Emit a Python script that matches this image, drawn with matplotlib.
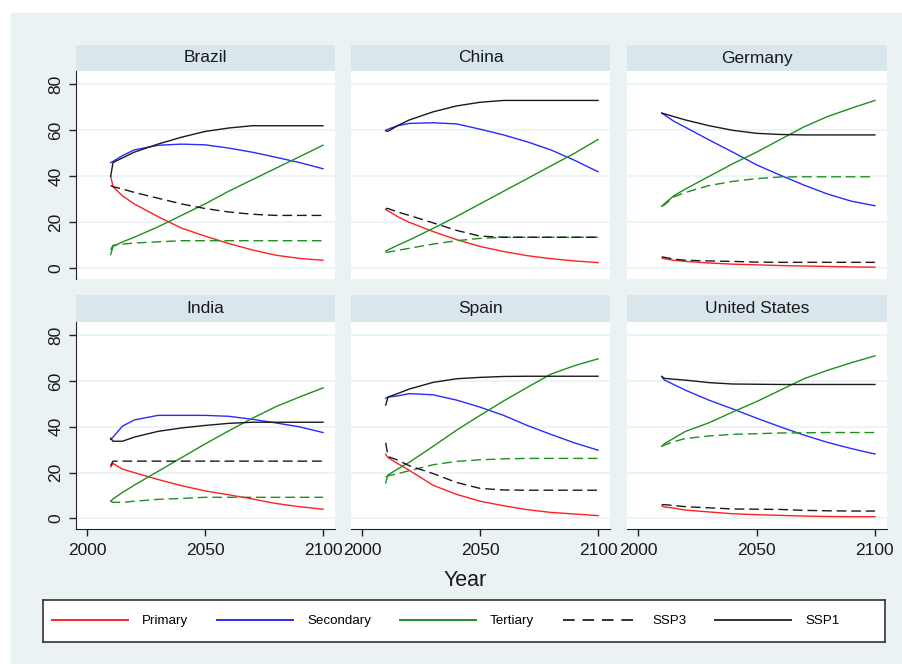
import numpy as np
import matplotlib
matplotlib.use("Agg")
import matplotlib.pyplot as plt
from matplotlib.lines import Line2D
from matplotlib.patches import Rectangle

plt.rcParams['font.family'] = ['Liberation Sans', 'DejaVu Sans']

# ---- data (in percent) ----
years = [2010, 2011, 2015, 2020, 2030, 2040, 2050, 2060, 2070, 2080, 2090, 2100]

countries = ["Brazil", "China", "Germany", "India", "Spain", "United States"]

brazil_primary = [40, 35.5, 31.5, 28, 22.5, 17.5, 14, 10.8, 8, 5.7, 4.3, 3.5]
brazil_secondary = [46, 46.5, 49, 51.5, 53.5, 54, 53.7, 52.3, 50.5, 48.3, 46, 43.3]
brazil_tertiary = [6, 9.5, 11.5, 13.5, 18, 23, 28, 33.5, 38.5, 43.5, 48.5, 53.5]
brazil_tertiary_ssp3 = [8, 10, 10.5, 11, 11.5, 12, 12, 12, 12, 12, 12, 12]
brazil_ssp3 = [36, 35.5, 34.5, 33, 30.5, 28, 26, 24.5, 23.5, 23, 23, 23]
brazil_ssp1 = [40, 46, 48, 50.5, 54, 57, 59.5, 61, 62, 62, 62, 62]

china_primary = [25.5, 25, 22.5, 20, 16, 12.5, 9.5, 7.3, 5.5, 4.2, 3.2, 2.5]
china_secondary = [60, 60.5, 62, 63, 63.3, 62.8, 60.5, 58, 55, 51.5, 47, 42]
china_tertiary = [7.5, 8, 10, 12.3, 17.3, 22.5, 28, 33.5, 39, 44.5, 50, 56]
china_tertiary_ssp3 = [7, 7, 7.8, 8.7, 10.5, 12, 13, 13.5, 13.5, 13.5, 13.5, 13.5]
china_ssp3 = [26, 26, 24.5, 23, 19.8, 16.5, 14, 13.5, 13.5, 13.5, 13.5, 13.5]
china_ssp1 = [59.8, 59.6, 62, 64.5, 68, 70.6, 72.2, 73, 73, 73, 73, 73]

germany_primary = [4.5, 4.2, 3.5, 3, 2.3, 1.8, 1.5, 1.2, 1, 0.8, 0.6, 0.5]
germany_secondary = [67.5, 66.8, 64, 61.3, 55.8, 50.5, 45, 40.5, 36.2, 32.3, 29.2, 27.2]
germany_tertiary = [27, 28, 31.5, 34.5, 40, 45.5, 50.5, 56, 61.5, 66, 69.6, 73]
germany_tertiary_ssp3 = [27, 27.5, 31, 33, 36, 37.8, 39, 39.7, 39.8, 39.8, 39.8, 39.8]
germany_ssp3 = [5, 4.8, 4, 3.5, 3.2, 3, 2.7, 2.6, 2.6, 2.6, 2.6, 2.6]
germany_ssp1 = [67.5, 67.2, 66, 64.5, 62, 60, 58.7, 58.2, 58, 58, 58, 58]

india_primary = [22.5, 24, 21.5, 20, 17, 14.3, 12, 10.3, 8.5, 6.5, 5.1, 4]
india_secondary = [34.5, 35.5, 40.3, 43, 45, 45, 45, 44.6, 43.3, 41.7, 40, 37.5]
india_tertiary = [7.5, 8.5, 11.3, 14.5, 20.5, 26.5, 32.5, 38.2, 43.7, 48.8, 53, 57]
india_tertiary_ssp3 = [7.5, 7, 7, 7.5, 8.3, 8.7, 9.2, 9.2, 9.2, 9.2, 9.2, 9.2]
india_ssp3 = [23, 25, 25, 25, 25, 25, 25, 25, 25, 25, 25, 25]
india_ssp1 = [35, 33.7, 33.7, 35.5, 38, 39.5, 40.6, 41.5, 42, 42, 42, 42]

spain_primary = [28, 26.5, 24, 21, 14.5, 10.5, 7.5, 5.5, 3.8, 2.6, 1.9, 1.2]
spain_secondary = [52.5, 53, 53.5, 54.5, 54, 51.7, 48.6, 45, 40.6, 36.7, 33, 29.8]
spain_tertiary = [15.5, 19, 21.5, 24.5, 31.4, 38.5, 45, 51.3, 57.2, 63, 66.7, 69.7]
spain_tertiary_ssp3 = [18, 18.6, 19.5, 20.8, 23.4, 24.9, 25.6, 26, 26.2, 26.2, 26.2, 26.2]
spain_ssp3 = [33, 27, 25.5, 23, 19.6, 15.7, 13.1, 12.4, 12.3, 12.3, 12.3, 12.3]
spain_ssp1 = [49.5, 53, 54.5, 56.5, 59.4, 61, 61.6, 62, 62.1, 62.1, 62.1, 62.1]

us_primary = [5.5, 5, 4.5, 3.6, 2.8, 2, 1.6, 1.3, 1, 0.8, 0.7, 0.7]
us_secondary = [62, 60.5, 58.5, 56, 51.6, 47.8, 43.8, 40, 36.4, 33.2, 30.5, 28.1]
us_tertiary = [31.5, 32.5, 35, 38, 41.8, 46.5, 51, 56, 61, 64.7, 68, 71]
us_tertiary_ssp3 = [31.5, 32, 33.5, 34.9, 36, 36.7, 37, 37.3, 37.4, 37.5, 37.5, 37.5]
us_ssp3 = [6, 6, 5.6, 5.1, 4.6, 4.1, 4, 3.9, 3.5, 3.3, 3.2, 3.2]
us_ssp1 = [62, 61.2, 60.8, 60.4, 59.3, 58.7, 58.6, 58.5, 58.5, 58.5, 58.5, 58.5]

series = [
    (brazil_primary, brazil_secondary, brazil_tertiary, brazil_tertiary_ssp3, brazil_ssp3, brazil_ssp1),
    (china_primary, china_secondary, china_tertiary, china_tertiary_ssp3, china_ssp3, china_ssp1),
    (germany_primary, germany_secondary, germany_tertiary, germany_tertiary_ssp3, germany_ssp3, germany_ssp1),
    (india_primary, india_secondary, india_tertiary, india_tertiary_ssp3, india_ssp3, india_ssp1),
    (spain_primary, spain_secondary, spain_tertiary, spain_tertiary_ssp3, spain_ssp3, spain_ssp1),
    (us_primary, us_secondary, us_tertiary, us_tertiary_ssp3, us_ssp3, us_ssp1),
]

# ---- styling ----
bg = "#eaf2f3"
strip_col = "#d9e6eb"
red = "#ff2020"
blue = "#2a2aff"
green = "#1f8f1f"
black = "#1a1a1a"
dash = (0, (7, 3.5))

W, H = 902, 664
fig = plt.figure(figsize=(W / 100, H / 100), dpi=100, facecolor="white")
fig.patches.append(Rectangle((11 / W, 0), 1 - 11 / W, 1 - 13 / H,
                             transform=fig.transFigure, color=bg, zorder=-10))


def px_axes(x0, y0, x1, y1, **kw):
    return fig.add_axes([x0 / W, 1 - y1 / H, (x1 - x0) / W, (y1 - y0) / H], **kw)


cols = [(76, 335), (351, 610), (627, 887)]
rows = [((45, 71), (71, 279)), ((295, 322), (322, 529))]

for i, name in enumerate(countries):
    r, c = divmod(i, 3)
    (sy0, sy1), (py0, py1) = rows[r]
    x0, x1 = cols[c]

    # title strip
    sax = px_axes(x0, sy0, x1, sy1)
    sax.set_facecolor(strip_col)
    sax.set_xticks([])
    sax.set_yticks([])
    for sp in sax.spines.values():
        sp.set_visible(False)
    sax.text(0.5, 0.5, name, ha="center", va="center", fontsize=12.5, color="#1a1a1a",
             transform=sax.transAxes)

    ax = px_axes(x0, py0, x1, py1)
    ax.set_facecolor("white")
    prim, sec, ter, ter3, s3, s1 = series[i]
    ax.plot(years, prim, color=red, lw=1.0)
    ax.plot(years, sec, color=blue, lw=1.0)
    ax.plot(years, ter, color=green, lw=1.0)
    ax.plot(years, ter3, color=green, lw=1.0, linestyle=dash)
    ax.plot(years, s3, color=black, lw=1.0, linestyle=dash)
    ax.plot(years, s1, color=black, lw=1.0)

    ax.set_xlim(1995.3, 2105.1)
    ax.set_ylim(-4.65, 85.8)
    ax.set_yticks([0, 20, 40, 60, 80])
    ax.set_xticks([2000, 2050, 2100])
    ax.grid(axis="y", color=bg, lw=1.2)
    ax.set_axisbelow(True)
    for sp in ax.spines.values():
        sp.set_visible(False)

    if c == 0:
        ax.spines["left"].set_visible(True)
        ax.spines["left"].set_color("#222222")
        ax.tick_params(axis="y", length=5, width=1, color="#222222", pad=4,
                       labelsize=12.5, labelcolor="#1a1a1a")
        for lab in ax.get_yticklabels():
            lab.set_rotation(90)
            lab.set_va("center")
    else:
        ax.tick_params(axis="y", length=0, labelleft=False)

    if r == 1:
        ax.spines["bottom"].set_visible(True)
        ax.spines["bottom"].set_color("#222222")
        ax.tick_params(axis="x", length=5, width=1, color="#222222", pad=5,
                       labelsize=12.5, labelcolor="#1a1a1a")
    else:
        ax.tick_params(axis="x", length=0, labelbottom=False)

fig.text(465 / W, 1 - 580 / H, "Year", ha="center", va="center", fontsize=15.5,
         color="#1a1a1a")

# legend box
lax = px_axes(43, 600, 885, 642)
lax.set_facecolor("white")
lax.set_xticks([])
lax.set_yticks([])
for sp in lax.spines.values():
    sp.set_color("#333333")
    sp.set_linewidth(1.2)

handles = [
    Line2D([], [], color=red, lw=1.4),
    Line2D([], [], color=blue, lw=1.4),
    Line2D([], [], color=green, lw=1.4),
    Line2D([], [], color="#333333", lw=1.4, linestyle=(0, (6, 4))),
    Line2D([], [], color="#333333", lw=1.4),
]
labels = ["Primary", "Secondary", "Tertiary", "SSP3", "SSP1"]
lax.legend(handles, labels, loc="center left", bbox_to_anchor=(0, 0.5), ncol=5,
           frameon=False, fontsize=9.6, handlelength=5.7, handletextpad=1.05,
           columnspacing=2.15, borderaxespad=0, borderpad=0.68)

fig.savefig("out.png", dpi=100, facecolor=fig.get_facecolor())
